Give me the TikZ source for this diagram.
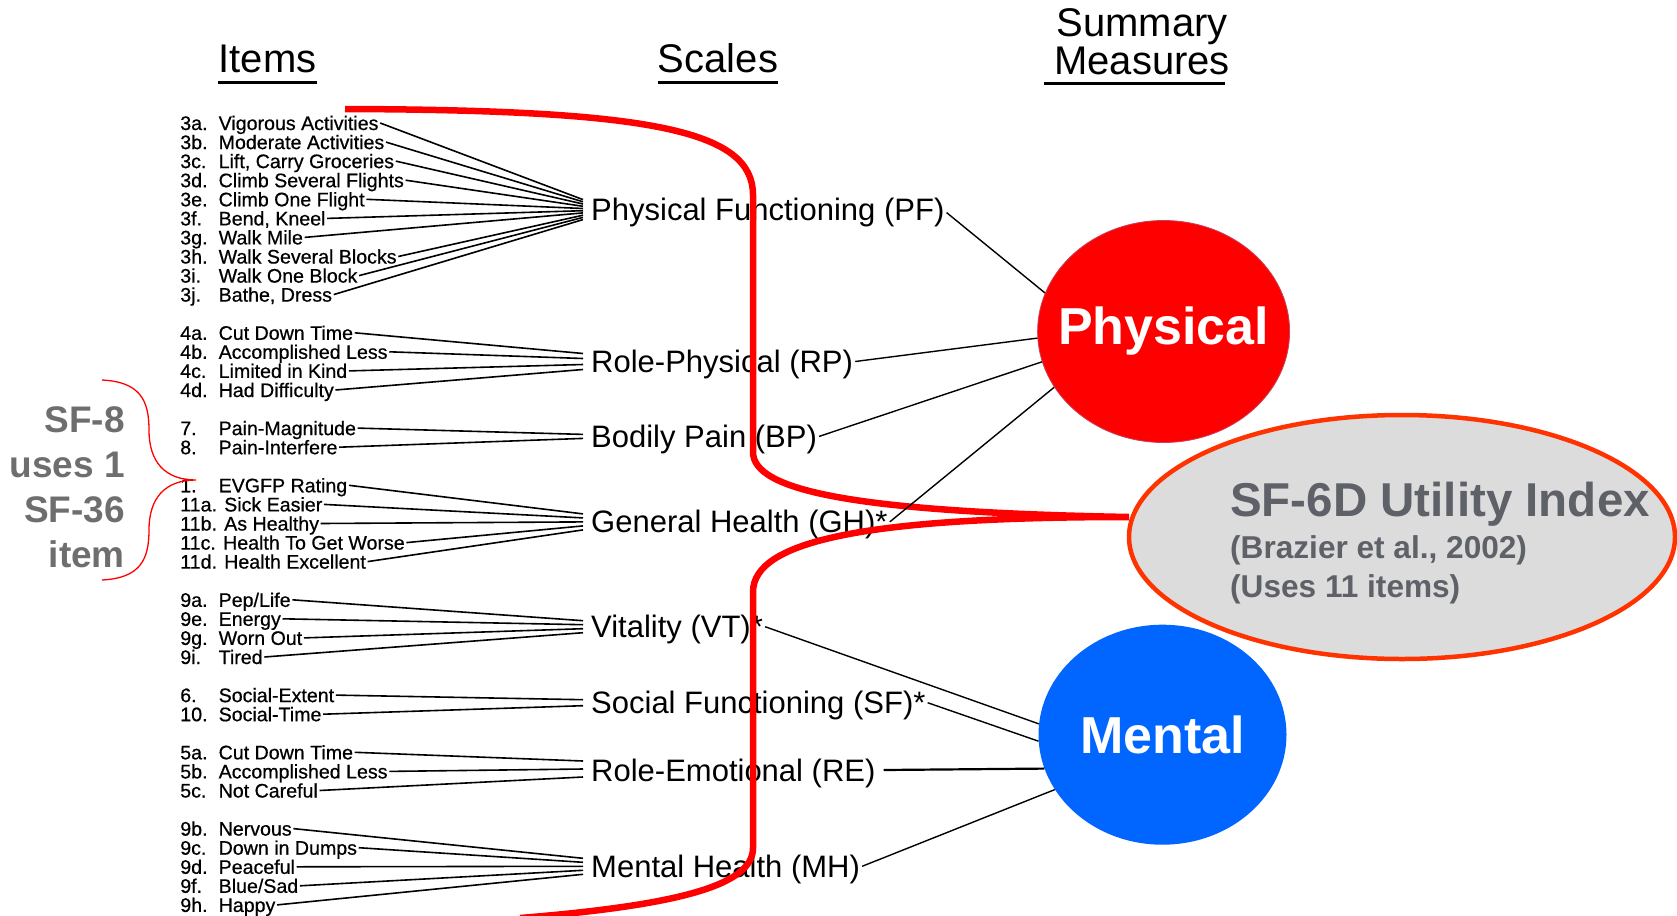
\documentclass[tikz,border=0pt]{standalone}
\usepackage{fontspec}
\setmainfont{Liberation Sans}
\newfontfamily\itemfont[FakeBold=0.6]{Liberation Sans}
\usetikzlibrary{shapes.geometric,calc}
\definecolor{sfred}{HTML}{FF0000}
\definecolor{mblue}{HTML}{0066FF}
\definecolor{sfgrey}{HTML}{DCDCDC}
\definecolor{sftext}{HTML}{5F6168}
\definecolor{sforange}{HTML}{FF3300}
\definecolor{sfeightgrey}{HTML}{6E6E6E}
\definecolor{physedge}{HTML}{C8405A}
\newcommand{\inum}[1]{\makebox[38.4pt][l]{#1}}
\begin{document}
\begin{tikzpicture}[x=1pt,y=-1pt,
  item/.style={anchor=west, inner xsep=1.5pt, inner ysep=0pt,
    font=\itemfont\fontsize{19.6}{19.6}\selectfont, text height=14pt, text depth=0pt},
  scalelbl/.style={anchor=west, inner xsep=2pt, inner ysep=0pt,
    font=\fontsize{31}{31}\selectfont, text height=22pt, text depth=0pt},
  hdr/.style={inner sep=0pt, font=\fontsize{40}{40}\selectfont, text height=29pt, text depth=0pt},
  uline/.style={line width=3pt},
  iline/.style={line width=1.6pt},
  sline/.style={line width=1.4pt},
  redline/.style={draw=sfred, line width=6.5pt},
  summ/.style={ellipse, inner sep=0pt},
  summtext/.style={text=white, inner sep=0pt, font=\bfseries\fontsize{52}{52}\selectfont},
  sfsix/.style={anchor=west, inner sep=0pt, text=sftext},
  sfeight/.style={anchor=east, inner sep=0pt, text=sfeightgrey,
    font=\bfseries\fontsize{37}{37}\selectfont, text height=27pt, text depth=0pt}
]
\useasboundingbox (0,0) rectangle (1677,915);

% headers
\node[hdr] (Items) at (267.5,57.7) {Items};
\node[hdr] (Scales) at (718,57.7) {Scales};
\node[hdr] (Summary) at (1142,22) {Summary};
\node[hdr] (Measures) at (1142,60.5) {Measures};
\draw[uline] ($(Items.south west)+(0,10)$) -- ($(Items.south east)+(0,10)$);
\draw[uline] ($(Scales.south west)+(0,10)$) -- ($(Scales.south east)+(0,10)$);
\draw[uline] ($(Measures.south west)+(-10,8)$) -- ($(Measures.south east)+(-5,8)$);

% items
\node[item] (i3a) at (178.6,123.0) {\inum{3a.}Vigorous Activities};
\node[item] (i3b) at (178.6,142.1) {\inum{3b.}Moderate Activities};
\node[item] (i3c) at (178.6,161.1) {\inum{3c.}Lift, Carry Groceries};
\node[item] (i3d) at (178.6,180.2) {\inum{3d.}Climb Several Flights};
\node[item] (i3e) at (178.6,199.3) {\inum{3e.}Climb One Flight};
\node[item] (i3f) at (178.6,218.4) {\inum{3f.}Bend, Kneel};
\node[item] (i3g) at (178.6,237.4) {\inum{3g.}Walk Mile};
\node[item] (i3h) at (178.6,256.5) {\inum{3h.}Walk Several Blocks};
\node[item] (i3i) at (178.6,275.6) {\inum{3i.}Walk One Block};
\node[item] (i3j) at (178.6,294.6) {\inum{3j.}Bathe, Dress};
\node[item] (i4a) at (178.6,332.8) {\inum{4a.}Cut Down Time};
\node[item] (i4b) at (178.6,351.8) {\inum{4b.}Accomplished Less};
\node[item] (i4c) at (178.6,370.9) {\inum{4c.}Limited in Kind};
\node[item] (i4d) at (178.6,390.0) {\inum{4d.}Had Difficulty};
\node[item] (i7) at (178.6,428.1) {\inum{7.}Pain-Magnitude};
\node[item] (i8) at (178.6,447.2) {\inum{8.}Pain-Interfere};
\node[item] (i1) at (178.6,485.3) {\inum{1.}EVGFP Rating};
\node[item] (i11a) at (178.6,504.4) {11a. Sick Easier};
\node[item] (i11b) at (178.6,523.5) {11b. As Healthy};
\node[item] (i11c) at (178.6,542.6) {11c. Health To Get Worse};
\node[item] (i11d) at (178.6,561.6) {11d. Health Excellent};
\node[item] (i9a) at (178.6,599.8) {\inum{9a.}Pep/Life};
\node[item] (i9e) at (178.6,618.8) {\inum{9e.}Energy};
\node[item] (i9g) at (178.6,637.9) {\inum{9g.}Worn Out};
\node[item] (i9i) at (178.6,657.0) {\inum{9i.}Tired};
\node[item] (i6) at (178.6,695.1) {\inum{6.}Social-Extent};
\node[item] (i10) at (178.6,714.2) {\inum{10.}Social-Time};
\node[item] (i5a) at (178.6,752.3) {\inum{5a.}Cut Down Time};
\node[item] (i5b) at (178.6,771.4) {\inum{5b.}Accomplished Less};
\node[item] (i5c) at (178.6,790.5) {\inum{5c.}Not Careful};
\node[item] (i9b) at (178.6,828.6) {\inum{9b.}Nervous};
\node[item] (i9c) at (178.6,847.7) {\inum{9c.}Down in Dumps};
\node[item] (i9d) at (178.6,866.8) {\inum{9d.}Peaceful};
\node[item] (i9f) at (178.6,885.8) {\inum{9f.}Blue/Sad};
\node[item] (i9h) at (178.6,904.9) {\inum{9h.}Happy};

% scales
\node[scalelbl] (PF) at (589,209.6) {Physical Functioning (PF)};
\node[scalelbl] (RP) at (589,361.5) {Role-Physical (RP)};
\node[scalelbl] (BP) at (589,436.4) {Bodily Pain (BP)};
\node[scalelbl] (GH) at (589,521.9) {General Health (GH)*};
\node[scalelbl] (VT) at (589,626.7) {Vitality (VT)*};
\node[scalelbl] (SF) at (589,702.7) {Social Functioning (SF)*};
\node[scalelbl] (RE) at (589,770.0) {Role-Emotional (RE)};
\node[scalelbl] (MH) at (589,866.3) {Mental Health (MH)};

% item -> scale connectors
\foreach \n/\s/\d in {i3a/PF/-10, i3b/PF/-7.8, i3c/PF/-5.6, i3d/PF/-3.3, i3e/PF/-1.1,
  i3f/PF/1.1, i3g/PF/3.3, i3h/PF/5.6, i3i/PF/7.8, i3j/PF/10,
  i4a/RP/-8, i4b/RP/-3, i4c/RP/3, i4d/RP/8,
  i7/BP/-2, i8/BP/2,
  i1/GH/-8, i11a/GH/-4, i11b/GH/0, i11c/GH/4, i11d/GH/8,
  i9a/VT/-6, i9e/VT/-2, i9g/VT/2, i9i/VT/6,
  i6/SF/-3, i10/SF/3,
  i5a/RE/-9, i5b/RE/-1, i5c/RE/7,
  i9b/MH/-8, i9c/MH/-4, i9d/MH/0, i9f/MH/4, i9h/MH/8}
  \draw[iline] (\n.east) -- ($(\s.west)+(-6,\d)$);

% big red bracket
\coordinate (rtop) at (345,109);
\coordinate (rbot) at (520,918);
\coordinate (rtip) at (1129,517);
\draw[redline] (rtop) .. controls (650,110) and (753,130) .. (753,195)
  -- (753,452) .. controls (753,490) and (850,512) .. (rtip)
  .. controls (870,517) and (753,540) .. (753,592)
  -- (753,848) .. controls (753,885) and (680,905) .. (rbot);

% summary measures
\node[summ, fill=sfred, draw=physedge, line width=0.8pt,
  minimum width=252pt, minimum height=222pt,
  label={[summtext]center:Physical}] (Phys) at (1163.6,331.5) {};
\node[summ, fill=mblue, minimum width=248pt, minimum height=220pt,
  label={[summtext]center:Mental}] (Ment) at (1162.5,734.7) {};

% scale -> summary connectors
\draw[sline] ([yshift=-3pt]PF.east) -- (Phys.162.5);
\draw[sline] (RP.east) -- (Phys.183);
\draw[sline] (BP.east) -- (Phys.194);
\draw[sline] (GH.east) -- (Phys.207);
\draw[sline] (VT.east) -- (Ment.175);
\draw[sline] (SF.east) -- (Ment.183);
\draw[line width=2.2pt] ([xshift=6pt]RE.east) -- (Ment.196);
\draw[sline] (MH.east) -- (Ment.207.5);

% SF-6D
\node[ellipse, fill=sfgrey, draw=sforange, line width=4.5pt, inner sep=0pt,
  minimum width=546pt, minimum height=244pt] (SFsixD) at (1402,537) {};
\node[sfsix, font=\bfseries\fontsize{47.5}{47.5}\selectfont, text height=34pt, text depth=0pt]
  (sfTitle) at (1230,499.5) {SF-6D Utility Index};
\node[sfsix, font=\bfseries\fontsize{31.6}{31.6}\selectfont, text height=22.5pt, text depth=0pt]
  (sfRef) at (1230,547.6) {(Brazier et al., 2002)};
\node[sfsix, font=\bfseries\fontsize{31.6}{31.6}\selectfont, text height=22.5pt, text depth=0pt]
  (sfUses) at (1230,586) {(Uses 11 items)};

% SF-8 note and brace
\node[sfeight] (sfa) at (125,419) {SF-8};
\node[sfeight] (sfb) at (125,464) {uses 1};
\node[sfeight] (sfc) at (125,509) {SF-36};
\node[sfeight] (sfd) at (125,554) {item};
\draw[sfred, line width=1.3pt] (102,380) .. controls (140,382) and (149,400) .. (149,430)
  .. controls (149,462) and (165,480) .. (196,480)
  .. controls (165,480) and (149,498) .. (149,530)
  .. controls (149,560) and (140,578) .. (102,580);
\end{tikzpicture}
\end{document}
